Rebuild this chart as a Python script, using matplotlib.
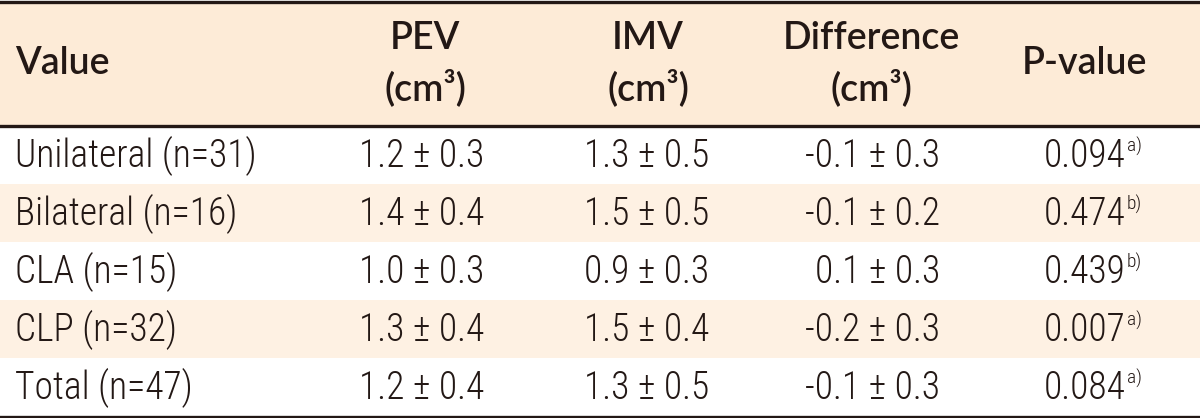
import matplotlib
matplotlib.use("Agg")
import matplotlib.pyplot as plt
from matplotlib.patches import Rectangle

# table content
headers = ["Value", "PEV\n(cm³)", "IMV\n(cm³)", "Difference\n(cm³)", "P-value"]
groups = ["Unilateral (n=31)", "Bilateral (n=16)", "CLA (n=15)", "CLP (n=32)", "Total (n=47)"]
pev = ["1.2 ± 0.3", "1.4 ± 0.4", "1.0 ± 0.3", "1.3 ± 0.4", "1.2 ± 0.4"]
imv = ["1.3 ± 0.5", "1.5 ± 0.5", "0.9 ± 0.3", "1.5 ± 0.4", "1.3 ± 0.5"]
diff = ["-0.1 ± 0.3", "-0.1 ± 0.2", "0.1 ± 0.3", "-0.2 ± 0.3", "-0.1 ± 0.3"]
pvals = ["0.094", "0.474", "0.439", "0.007", "0.084"]
pnotes = ["a)", "b)", "b)", "a)", "a)"]

W, H = 1200, 418
LINE = "#231815"
HEAD_BG = "#FDEBD7"
ROW_BG = "#FEF1E3"
TXT = "#231815"

head_font = ["Lato", "DejaVu Sans"]
body_font = ["Roboto Condensed", "IBM Plex Sans Condensed", "DejaVu Sans"]
BODY_SIZE = 27

fig = plt.figure(figsize=(W / 100, H / 100), dpi=100)
ax = fig.add_axes([0, 0, 1, 1])
ax.set_xlim(0, W)
ax.set_ylim(H, 0)
ax.axis("off")

head_top, head_bot = 2, 125
row_h = (416 - 126) / len(groups)

ax.add_patch(Rectangle((0, head_top), W, head_bot - head_top, color=HEAD_BG, lw=0))
for i in range(len(groups)):
    if i % 2 == 1:
        ax.add_patch(Rectangle((0, 126 + i * row_h), W, row_h, color=ROW_BG, lw=0))

for y in [1.5, 125.5, 416.5]:
    ax.axhline(y, color=LINE, lw=2.4)

# header
head_x = [15, 425, 648, 871, 1084]
head_ha = ["left", "center", "center", "center", "center"]
for h, x, ha in zip(headers, head_x, head_ha):
    ax.text(x, 64, h, ha=ha, va="center", family=head_font, weight="semibold",
            fontsize=27, color=TXT, linespacing=1.45)

# body
for i in range(len(groups)):
    yc = 126 + (i + 0.5) * row_h + 1
    ax.text(15, yc, groups[i], ha="left", va="center", family=body_font,
            fontsize=BODY_SIZE, color=TXT, weight="light")
    ax.text(422, yc, pev[i], ha="center", va="center", family=body_font,
            fontsize=BODY_SIZE, color=TXT, weight="light")
    ax.text(647, yc, imv[i], ha="center", va="center", family=body_font,
            fontsize=BODY_SIZE, color=TXT, weight="light")
    ax.text(940, yc, diff[i], ha="right", va="center", family=body_font,
            fontsize=BODY_SIZE, color=TXT, weight="light")
    ax.text(1126, yc, pvals[i], ha="right", va="center", family=body_font,
            fontsize=BODY_SIZE, color=TXT, weight="light")
    ax.text(1127, yc - 10, pnotes[i], ha="left", va="center", family=body_font,
            fontsize=14, color=TXT, weight="light")

fig.savefig("out.png", dpi=100)
